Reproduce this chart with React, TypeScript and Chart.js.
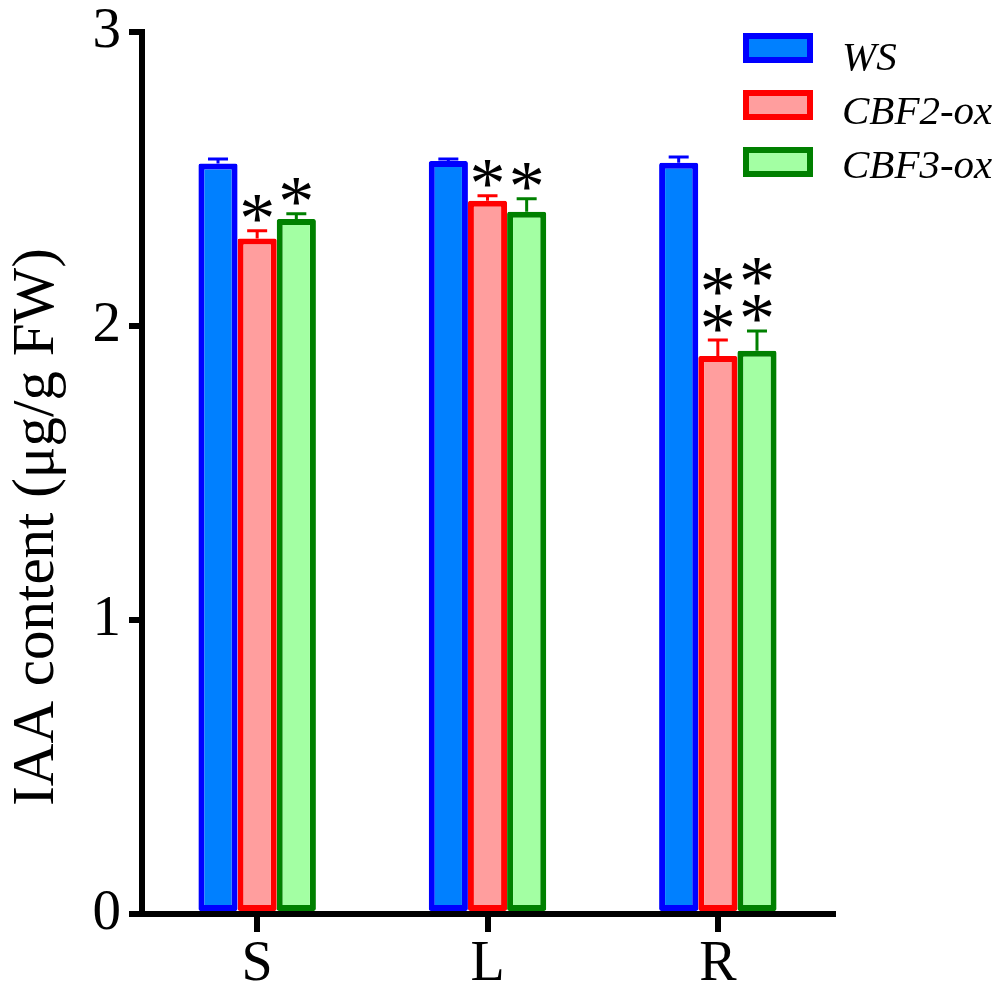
import React, { useEffect, useRef } from "react";
import { Chart, registerables } from "chart.js";

Chart.register(...registerables);

const categories = ["S", "L", "R"];
const seriesNames = ["WS", "CBF2-ox", "CBF3-ox"];
const wsValues = [2.553, 2.561, 2.555];
const cbf2Values = [2.298, 2.426, 1.898];
const cbf3Values = [2.364, 2.389, 1.916];
const wsErrors = [0.015, 0.007, 0.02];
const cbf2Errors = [0.026, 0.017, 0.054];
const cbf3Errors = [0.018, 0.044, 0.067];
const wsSig = ["", "", ""];
const cbf2Sig = ["*", "*", "**"];
const cbf3Sig = ["*", "*", "**"];
const yTicks = [0, 1, 2, 3];
const yTitle = "IAA content (\u03bcg/g FW)";

const fills = ["#0080FF", "#FF9E9E", "#A3FFA3"];
const borders = ["#0000FF", "#FF0000", "#008000"];
const SERIF = "'Liberation Serif', 'Times New Roman', serif";

export default function App() {
  const ref = useRef<HTMLCanvasElement | null>(null);

  useEffect(() => {
    const canvas = ref.current;
    if (!canvas) return;
    const errors = [wsErrors, cbf2Errors, cbf3Errors];
    const sigs = [wsSig, cbf2Sig, cbf3Sig];

    const errorBarPlugin = {
      id: "errorBars",
      afterDatasetsDraw(chart: any) {
        const ctx = chart.ctx;
        const yScale = chart.scales.y;
        chart.data.datasets.forEach((ds: any, di: number) => {
          const meta = chart.getDatasetMeta(di);
          meta.data.forEach((el: any, i: number) => {
            const v = ds.data[i];
            const top = yScale.getPixelForValue(v + errors[di][i]);
            ctx.save();
            ctx.strokeStyle = borders[di];
            ctx.lineWidth = 3;
            ctx.beginPath();
            ctx.moveTo(el.x, el.y);
            ctx.lineTo(el.x, top);
            ctx.moveTo(el.x - 10, top);
            ctx.lineTo(el.x + 10, top);
            ctx.stroke();
            const s = sigs[di][i];
            if (s) {
              ctx.fillStyle = "#000";
              ctx.font = `72px ${SERIF}`;
              ctx.textAlign = "center";
              ctx.textBaseline = "alphabetic";
              const m = ctx.measureText("*");
              const asc = m.actualBoundingBoxAscent;
              const desc = m.actualBoundingBoxDescent;
              for (let k = 0; k < s.length; k++) {
                const cy = top - 22 - k * 37;
                ctx.fillText("*", el.x, cy + (asc - desc) / 2);
              }
            }
            ctx.restore();
          });
        });
      },
    };

    const decorPlugin = {
      id: "decor",
      afterDraw(chart: any) {
        const ctx = chart.ctx;
        ctx.save();
        ctx.fillStyle = "#000";
        ctx.font = `59px ${SERIF}`;
        ctx.textAlign = "center";
        ctx.textBaseline = "alphabetic";
        ctx.translate(53, 527);
        ctx.rotate(-Math.PI / 2);
        ctx.fillText(yTitle, 0, 0);
        ctx.restore();
        ctx.save();
        seriesNames.forEach((name, i) => {
          const by = 33 + i * 57;
          ctx.fillStyle = fills[i];
          ctx.fillRect(743, by, 70, 30);
          ctx.strokeStyle = borders[i];
          ctx.lineWidth = 6;
          ctx.strokeRect(746, by + 3, 64, 24);
          ctx.fillStyle = "#000";
          ctx.font = `italic 41px ${SERIF}`;
          ctx.textAlign = "left";
          ctx.textBaseline = "alphabetic";
          ctx.fillText(name, 842, 70 + i * 54);
        });
        ctx.restore();
      },
    };

    const valueSets = [wsValues, cbf2Values, cbf3Values];
    const chart = new Chart(canvas, {
      type: "bar",
      data: {
        labels: categories,
        datasets: seriesNames.map((n, i) => ({
          label: n,
          data: valueSets[i],
          backgroundColor: fills[i],
          borderColor: borders[i],
          borderWidth: 6,
          borderSkipped: false,
          borderRadius: 2,
          barPercentage: 1,
          categoryPercentage: 0.51,
        })),
      },
      options: {
        responsive: false,
        animation: false,
        devicePixelRatio: 1,
        layout: { padding: { left: 0, right: 167, top: 32, bottom: 0 } },
        plugins: {
          legend: { display: false },
          tooltip: { enabled: false },
        },
        scales: {
          x: {
            type: "category",
            offset: true,
            grid: {
              display: true,
              drawOnChartArea: false,
              drawTicks: true,
              offset: false,
              tickLength: 18,
              lineWidth: 6,
              color: "#000",
            },
            border: { display: true, width: 6, color: "#000" },
            ticks: {
              color: "#000",
              padding: 0,
              font: { family: SERIF, size: 56 },
            },
            afterFit: (s: any) => {
              s.height = 73;
              s.paddingLeft = 0;
              s.paddingRight = 0;
            },
          },
          y: {
            min: 0,
            max: 3,
            afterBuildTicks: (s: any) => {
              s.ticks = yTicks.map((v) => ({ value: v }));
            },
            grid: {
              display: true,
              drawOnChartArea: false,
              drawTicks: true,
              tickLength: 13,
              lineWidth: 6,
              color: "#000",
            },
            border: { display: true, width: 6, color: "#000" },
            ticks: {
              color: "#000",
              padding: 8,
              font: { family: SERIF, size: 57, lineHeight: 1 },
            },
            afterFit: (s: any) => {
              s.width = 142;
              s.paddingTop = 0;
              s.paddingBottom = 0;
            },
          },
        },
      },
      plugins: [errorBarPlugin, decorPlugin],
    });
    return () => chart.destroy();
  }, []);

  return (
    <div style={{ position: "absolute", left: 0, top: 0, width: 1000, height: 987, background: "#fff" }}>
      <canvas ref={ref} width={1000} height={987} style={{ width: 1000, height: 987, display: "block" }} />
    </div>
  );
}
